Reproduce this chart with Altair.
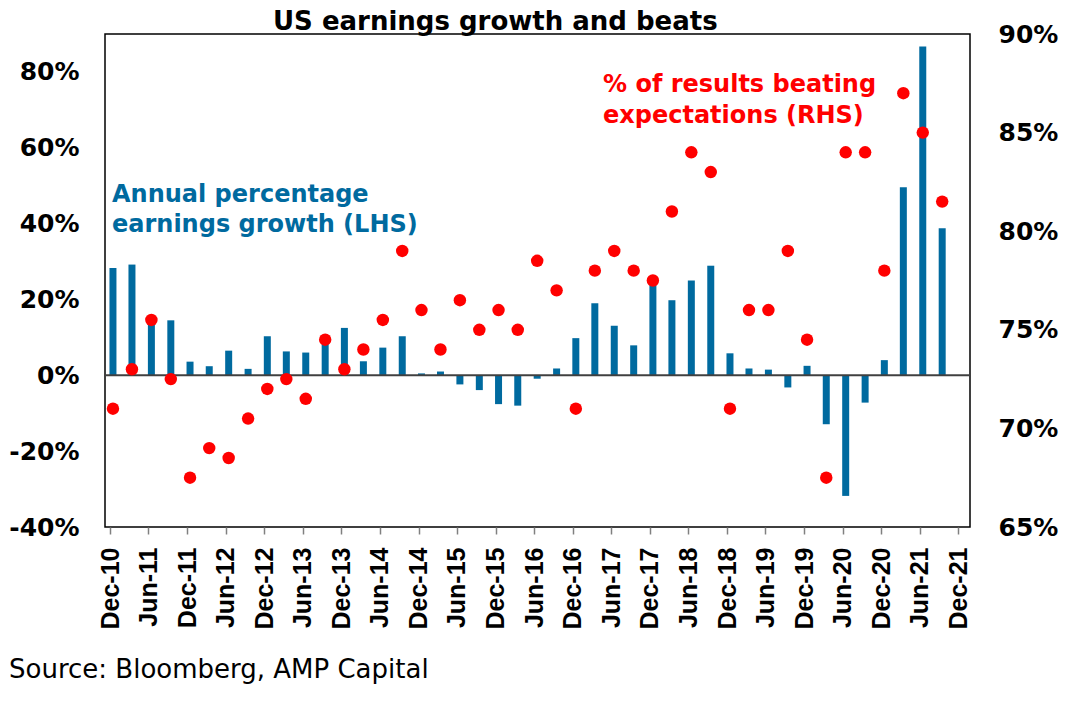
import altair as alt
import pandas as pd

# Quarter-end observations (plotted mid-month of the quarter's last month)
quarters = [
    "2010-12", "2011-03", "2011-06", "2011-09", "2011-12", "2012-03", "2012-06", "2012-09",
    "2012-12", "2013-03", "2013-06", "2013-09", "2013-12", "2014-03", "2014-06", "2014-09",
    "2014-12", "2015-03", "2015-06", "2015-09", "2015-12", "2016-03", "2016-06", "2016-09",
    "2016-12", "2017-03", "2017-06", "2017-09", "2017-12", "2018-03", "2018-06", "2018-09",
    "2018-12", "2019-03", "2019-06", "2019-09", "2019-12", "2020-03", "2020-06", "2020-09",
    "2020-12", "2021-03", "2021-06", "2021-09",
]

# Annual percentage earnings growth (LHS, %)
growth = [
    28.3, 29.2, 14.0, 14.5, 3.6, 2.4, 6.5, 1.7,
    10.3, 6.3, 6.0, 8.8, 12.5, 3.7, 7.3, 10.3,
    0.5, 1.0, -2.4, -3.9, -7.6, -8.0, -0.9, 1.8,
    9.8, 19.0, 13.1, 7.9, 24.0, 19.8, 25.0, 28.9,
    5.8, 1.8, 1.5, -3.2, 2.5, -12.9, -31.8, -7.2,
    4.0, 49.6, 86.7, 38.8,
]

# % of results beating expectations (RHS, %)
beats = [
    71.0, 73.0, 75.5, 72.5, 67.5, 69.0, 68.5, 70.5,
    72.0, 72.5, 71.5, 74.5, 73.0, 74.0, 75.5, 79.0,
    76.0, 74.0, 76.5, 75.0, 76.0, 75.0, 78.5, 77.0,
    71.0, 78.0, 79.0, 78.0, 77.5, 81.0, 84.0, 83.0,
    71.0, 76.0, 76.0, 79.0, 74.5, 67.5, 84.0, 84.0,
    78.0, 87.0, 85.0, 81.5,
]

# X-axis tick months
tick_months = [
    "2010-12", "2011-06", "2011-12", "2012-06", "2012-12", "2013-06", "2013-12", "2014-06",
    "2014-12", "2015-06", "2015-12", "2016-06", "2016-12", "2017-06", "2017-12", "2018-06",
    "2018-12", "2019-06", "2019-12", "2020-06", "2020-12", "2021-06", "2021-12",
]
left_ticks = [-40, -20, 0, 20, 40, 60, 80]
right_ticks = [65, 70, 75, 80, 85, 90]

BLUE = "#006A9F"
RED = "#FF0000"

df = pd.DataFrame({
    "date": [q + "-15T00:00:00" for q in quarters],
    "growth": growth,
    "beats": beats,
})

def dt(s):
    y, m = s.split("-")
    return alt.DateTime(year=int(y), month=int(m), date=1)

x_scale = alt.Scale(domain=[dt("2010-12"), dt("2022-01")], nice=False)
x_axis = alt.Axis(
    values=[dt(s) for s in tick_months], format="%b-%y", labelAngle=-90,
    labelFont="Liberation Sans", labelFontSize=25, labelFontWeight="bold",
    labelColor="black", tickSize=7, tickColor="#808080", tickWidth=1.5,
    labelPadding=13, labelFlush=False, labelOverlap=False,
    domain=False, grid=False, title=None,
)

def y_axis(vals, orient, pad):
    return alt.Axis(
        values=vals, labelExpr="datum.value + '%'", orient=orient,
        ticks=False, tickSize=0, domain=False, grid=False, title=None,
        labelFont="DejaVu Sans", labelFontSize=25, labelFontWeight="bold",
        labelColor="black", labelPadding=pad, labelOverlap=False,
    )

base = alt.Chart(df)

bars = base.mark_bar(size=7, color=BLUE).encode(
    x=alt.X("date:T", scale=x_scale, axis=x_axis),
    y=alt.Y("growth:Q", scale=alt.Scale(domain=[-40, 90], nice=False, zero=False),
            axis=y_axis(left_ticks, "left", 26)),
)

zero_line = alt.Chart(pd.DataFrame({"z": [0]})).mark_rule(
    color="#404040", strokeWidth=2
).encode(y="z:Q")

left = alt.layer(bars, zero_line)

points = base.mark_circle(size=155, color=RED, opacity=1).encode(
    x=alt.X("date:T", scale=x_scale, axis=x_axis),
    y=alt.Y("beats:Q", scale=alt.Scale(domain=[65, 90], nice=False, zero=False),
            axis=y_axis(right_ticks, "right", 28)),
)

def label(text, x, y, color="black", size=24, weight="bold", font="DejaVu Sans"):
    return alt.Chart(pd.DataFrame({"t": [text]})).mark_text(
        align="left", baseline="alphabetic", font=font, fontSize=size,
        fontWeight=weight, color=color,
    ).encode(text="t:N", x=alt.value(x), y=alt.value(y))

texts = [
    label("US earnings growth and beats", 168, -4, size=26),
    label("Annual percentage", 7, 168, color=BLUE),
    label("earnings growth (LHS)", 7, 198, color=BLUE),
    label("% of results beating", 498, 58, color=RED),
    label("expectations (RHS)", 498, 89, color=RED),
    label("Source: Bloomberg, AMP Capital", -96, 644, size=26, weight="normal"),
]

chart = alt.layer(left, points, *texts).resolve_scale(y="independent").properties(
    width=865, height=493,
    autosize=alt.AutoSizeParams(type="none"),
    padding={"left": 97, "top": 26, "right": 100, "bottom": 170},
    background="white",
).configure_view(stroke="black", strokeWidth=1.5)

chart.save("out.html", embed_options={"renderer": "svg", "actions": False})
